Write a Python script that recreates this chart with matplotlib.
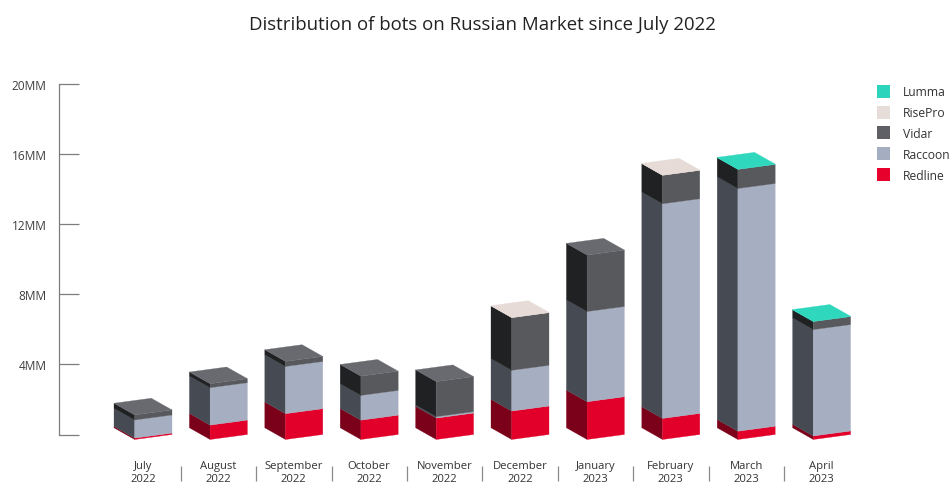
import matplotlib
matplotlib.use("Agg")
import matplotlib.pyplot as plt
from matplotlib.patches import Polygon, Patch

plt.rcParams["font.family"] = ["Open Sans", "DejaVu Sans"]

# Monthly bot counts, in millions
months = ["July\n2022", "August\n2022", "September\n2022", "October\n2022", "November\n2022",
          "December\n2022", "January\n2023", "February\n2023", "March\n2023", "April\n2023"]
redline = [0.08, 0.82, 1.47, 1.10, 1.22, 1.62, 2.15, 1.20, 0.47, 0.20]
raccoon = [1.03, 2.13, 2.69, 1.41, 0.08, 2.32, 5.14, 12.23, 13.83, 6.06]
vidar = [0.29, 0.23, 0.29, 1.10, 2.00, 3.00, 3.22, 1.62, 1.09, 0.46]
risepro = [0, 0, 0, 0, 0, 0.02, 0, 0.02, 0, 0]
lumma = [0, 0, 0, 0, 0, 0, 0, 0, 0.02, 0.02]

series_names = ["Redline", "Raccoon", "Vidar", "RisePro", "Lumma"]
series_values = [redline, raccoon, vidar, risepro, lumma]
front_colors = ["#e2002a", "#a6aec1", "#57595c", "#e6dbd7", "#2fd7bd"]
side_colors = ["#7b0019", "#464b53", "#1f2123", "#e6dbd7", "#2fd7bd"]
top_colors = ["#e2002a", "#a6aec1", "#696a70", "#e6dbd7", "#2fd7bd"]
legend_colors = ["#e8002d", "#a5adc0", "#5f6066", "#e6dcd8", "#2dd4bc"]

W, H = 951, 485
PX_PER_CAT = 75.4
FIRST_CENTER = 143.0
AX_LEFT, AX_RIGHT, AX_TOP, AX_BOTTOM = 58.5, 860.0, 84.5, 435.5
PX_PER_MM = (AX_BOTTOM - AX_TOP) / 20

fig = plt.figure(figsize=(W / 100, H / 100), dpi=100, facecolor="white")
ax = fig.add_axes([AX_LEFT / W, 1 - AX_BOTTOM / H,
                   (AX_RIGHT - AX_LEFT) / W, (AX_BOTTOM - AX_TOP) / H])
ax.set_xlim((AX_LEFT - FIRST_CENTER) / PX_PER_CAT, (AX_RIGHT - FIRST_CENTER) / PX_PER_CAT)
ax.set_ylim(0, 20)

# Oblique box geometry, converted to data units
half_w = 29.0 / PX_PER_CAT
corner = -8.3 / PX_PER_CAT
front_drop = 5.0 / PX_PER_MM
left_rise = 6.7 / PX_PER_MM


def add_face(points, color):
    ax.add_patch(Polygon(points, closed=True, facecolor=color, edgecolor=color,
                         linewidth=0.2, clip_on=False))


for i in range(len(months)):
    lx, fx, rx = i - half_w, i + corner, i + half_w
    base = 0.0
    top_color = None
    for values, fc, sc, tc in zip(series_values, front_colors, side_colors, top_colors):
        v = values[i]
        if v <= 0:
            continue
        t = base + v
        add_face([(lx, base + left_rise), (fx, base - front_drop),
                  (fx, t - front_drop), (lx, t + left_rise)], sc)
        add_face([(fx, base - front_drop), (rx, base), (rx, t), (fx, t - front_drop)], fc)
        base = t
        top_color = tc
    add_face([(lx, base + left_rise), (fx, base - front_drop), (rx, base),
              (lx + rx - fx, base + left_rise + front_drop)], top_color)

# Value axis on the left, with ticks pointing into the plot
for name in ("top", "right", "bottom"):
    ax.spines[name].set_visible(False)
ax.spines["left"].set_color("#7d7d7d")
ax.spines["left"].set_linewidth(0.9)
ax.set_yticks([0, 4, 8, 12, 16, 20])
ax.set_yticklabels(["", "4MM", "8MM", "12MM", "16MM", "20MM"])
ax.tick_params(axis="y", direction="in", length=14.4, width=0.9, color="#7d7d7d",
               labelcolor="#3f3f3f", labelsize=8.6, pad=8.6)

# Category labels and the separators between them
ax.set_xticks(range(len(months)))
ax.set_xticklabels(months, linespacing=1.25)
ax.tick_params(axis="x", length=0, labelcolor="#333333", labelsize=8.1, pad=18.4)
sep_x = [i + 0.5 for i in range(len(months) - 1)]
ax.vlines(sep_x, -46.2 / PX_PER_MM, -31.2 / PX_PER_MM, colors="#8a8a8a",
          linewidth=0.9, clip_on=False)

fig.text(482 / W, 1 - 25 / H, "Distribution of bots on Russian Market since July 2022",
         ha="center", va="center", fontsize=13.4, color="#222222")

handles = [Patch(facecolor=c, edgecolor="none", label=n)
           for n, c in zip(series_names, legend_colors)][::-1]
ax.legend(handles=handles, loc="upper left", bbox_to_anchor=(876.7 / W, 1 - 85.7 / H),
          bbox_transform=fig.transFigure, frameon=False, fontsize=8.75, borderpad=0,
          borderaxespad=0, handlelength=1.07, handleheight=1.27, handletextpad=1.07,
          labelspacing=0.60, labelcolor="#333333")

fig.savefig("out.png", dpi=100)
